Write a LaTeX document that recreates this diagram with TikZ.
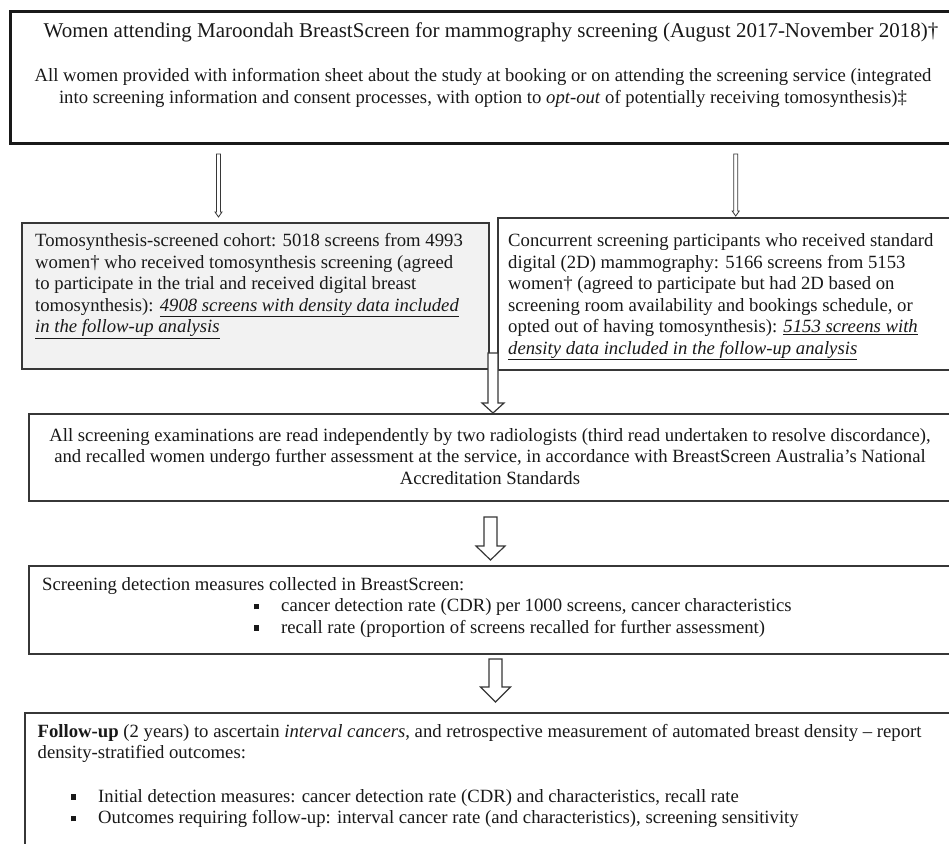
\documentclass[tikz,border=0pt]{standalone}
\usepackage{fontspec}
\setmainfont{Liberation Serif}
\usetikzlibrary{calc}
\definecolor{edge}{RGB}{55,55,55}
\definecolor{ink}{RGB}{25,25,25}
\definecolor{shade}{RGB}{242,242,242}
\newcommand\bodysize{\fontsize{18.7pt}{21.5pt}\selectfont}
\newcommand\titlesize{\fontsize{21pt}{22pt}\selectfont}
\newcommand\sqb{\makebox[27pt][l]{\rule[2.2pt]{5pt}{5.5pt}}}
\newcommand\uit[1]{\underline{\textit{#1}}}
\newcommand\hollowarrow[6][]{%
  \draw[arrowst,#1] let \p1=(#2), \p2=(#3) in
    (\x1-#4,\y1) -- (\x1+#4,\y1) -- (\x1+#4,\y2+#6) -- (\x1+#5,\y2+#6) --
    (\x1,\y2) -- (\x1-#5,\y2+#6) -- (\x1-#4,\y2+#6) -- cycle;}
\tikzset{
  frame/.style={draw=edge, line width=1.5pt, anchor=north west, inner sep=0pt},
  txt/.style={inner sep=0pt, text=ink, font=\bodysize},
  arrowst/.style={draw=edge, fill=white, line width=1.2pt, line join=miter},
}
\begin{document}
\begin{tikzpicture}[x=1pt,y=-1pt]
\useasboundingbox (0,0) rectangle (949,843);
\fill[white] (0,0) rectangle (949,843);
\begin{scope}
\clip (0,0) rectangle (949,843);
% boxes
\node[frame, draw=ink, line width=3pt, minimum width=951pt, minimum height=132pt] (top) at (9,10) {};
\node[frame, fill=shade, minimum width=467pt, minimum height=146pt] (tomo) at (21,222) {};
\node[frame, minimum width=463pt, minimum height=152pt] (conc) at (497,217) {};
\node[frame, minimum width=930pt, minimum height=87pt] (read) at (28,413) {};
\node[frame, minimum width=932pt, minimum height=88pt] (meas) at (28,565) {};
\node[frame, minimum width=940pt, minimum height=200pt] (follow) at (24,712) {};
% texts
\node[txt, font=\titlesize, anchor=base] (topA) at (491,37.3)
  {Women attending Maroondah BreastScreen for mammography screening (August 2017-November 2018)†};
\node[txt, anchor=base] (topB) at (483,81.7)
  {\begin{tabular}[t]{@{}c@{}}All women provided with information sheet about the study at booking or on attending the screening service (integrated\\
  into screening information and consent processes, with option to \textit{opt-out} of potentially receiving tomosynthesis)‡\end{tabular}};
\node[txt, anchor=base west] (tomoT) at (35,246.5)
  {\begin{tabular}[t]{@{}l@{}}Tomosynthesis-screened cohort: 5018 screens from 4993\\
  women† who received tomosynthesis screening (agreed\\
  to participate in the trial and received digital breast\\
  tomosynthesis): \uit{4908 screens with density data included}\\
  \uit{in the follow-up analysis}\end{tabular}};
\node[txt, anchor=base west] (concT) at (508,246.5)
  {\begin{tabular}[t]{@{}l@{}}Concurrent screening participants who received standard\\
  digital (2D) mammography: 5166 screens from 5153\\
  women† (agreed to participate but had 2D based on\\
  screening room availability and bookings schedule, or\\
  opted out of having tomosynthesis): \uit{5153 screens with}\\
  \uit{density data included in the follow-up analysis}\end{tabular}};
\node[txt, anchor=base] (readT) at (490,441)
  {\begin{tabular}[t]{@{}c@{}}All screening examinations are read independently by two radiologists (third read undertaken to resolve discordance),\\
  and recalled women undergo further assessment at the service, in accordance with BreastScreen Australia’s National\\
  Accreditation Standards\end{tabular}};
\node[txt, anchor=base west] (measH) at (42,590)
  {Screening detection measures collected in BreastScreen:};
\node[txt, anchor=base west] (measL) at (254,611.5)
  {\begin{tabular}[t]{@{}l@{}}\sqb cancer detection rate (CDR) per 1000 screens, cancer characteristics\\
  \sqb recall rate (proportion of screens recalled for further assessment)\end{tabular}};
\node[txt, anchor=base west] (followH) at (37.5,737)
  {\begin{tabular}[t]{@{}l@{}}\textbf{Follow-up} (2 years) to ascertain \textit{interval cancers}, and retrospective measurement of automated breast density – report\\
  density-stratified outcomes:\end{tabular}};
\node[txt, anchor=base west] (followL) at (71,802)
  {\begin{tabular}[t]{@{}l@{}}\sqb Initial detection measures: cancer detection rate (CDR) and characteristics, recall rate\\
  \sqb Outcomes requiring follow-up: interval cancer rate (and characteristics), screening sensitivity\end{tabular}};
% connectors
\coordinate (l1s) at (218.5,154);
\coordinate (l1e) at (218.5,217);
\coordinate (r1s) at (735.7,154);
\coordinate (r1e) at (735.7,216);
\coordinate (m1s) at (493,353);
\coordinate (m1e) at (493,0 |- read.north);
\coordinate (m2s) at (490.5,517);
\coordinate (m2e) at (490.5,560);
\coordinate (m3s) at (495.5,659);
\coordinate (m3e) at (495.5,702);
\hollowarrow[line width=0.8pt]{l1s}{l1e}{2pt}{3.5pt}{5pt}
\hollowarrow[line width=0.8pt]{r1s}{r1e}{2pt}{3.5pt}{5pt}
\hollowarrow{m1s}{m1e}{5pt}{11pt}{10pt}
\hollowarrow{m2s}{m2e}{6.5pt}{14.5pt}{14pt}
\hollowarrow{m3s}{m3e}{6.5pt}{15pt}{15pt}
\end{scope}
\end{tikzpicture}
\end{document}
